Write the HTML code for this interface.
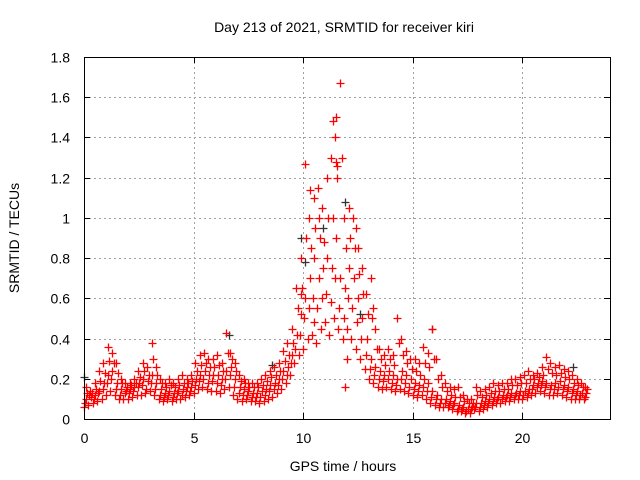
<!DOCTYPE html>
<html><head><meta charset="utf-8"><style>
body{margin:0;background:#fff}
svg{display:block;font-family:"Liberation Sans",sans-serif}
</style></head><body>
<svg id="chart" width="640" height="480">
<rect width="640" height="480" fill="#fff"/>
<text x="344" y="32" font-size="14" text-anchor="middle">Day 213 of 2021, SRMTID for receiver kiri</text>
<text x="343" y="471" font-size="14" text-anchor="middle">GPS time / hours</text>
<text transform="translate(19,238) rotate(-90)" font-size="14" text-anchor="middle">SRMTID / TECUs</text>
<g id="grid"></g><g id="ticks"></g><g id="marks"></g>
<rect x="84.5" y="57.5" width="526" height="362" fill="none" stroke="#000" stroke-width="1"/>
</svg>
<script>
const xTicks=[0,5,10,15,20];
const yTicks=[0,0.2,0.4,0.6,0.8,1,1.2,1.4,1.6,1.8];
const yTickLabels=["0","0.2","0.4","0.6","0.8","1","1.2","1.4","1.6","1.8"];
const times=[];for(let i=0;i<115;i++)times.push(i*0.2);
const lo=[.06,.07,.08,.09,.10,.12,.14,.12,.10,.10,.10,.11,.12,.12,.13,.14,.12,.10,.09,.10,.09,.10,.10,.11,.12,.13,.15,.16,.15,.14,.14,.13,.15,.16,.12,.10,.09,.10,.09,.09,.08,.09,.10,.11,.13,.15,.18,.22,.28,.32,.35,.40,.42,.38,.45,.48,.42,.50,.45,.40,.45,.40,.35,.30,.25,.20,.18,.16,.15,.16,.15,.14,.15,.14,.13,.12,.11,.12,.10,.08,.07,.06,.06,.06,.05,.04,.04,.03,.03,.05,.04,.05,.06,.07,.08,.08,.09,.09,.10,.10,.10,.11,.12,.13,.14,.13,.12,.12,.13,.12,.11,.10,.10,.10,.10];
const q1=[.08,.12,.10,.13,.15,.18,.20,.15,.12,.13,.13,.14,.16,.17,.15,.18,.15,.12,.11,.12,.11,.13,.12,.14,.14,.17,.19,.20,.18,.19,.18,.17,.20,.22,.16,.13,.12,.12,.11,.11,.11,.12,.14,.15,.17,.20,.22,.28,.35,.42,.50,.55,.60,.55,.60,.62,.58,.70,.55,.50,.60,.55,.48,.40,.32,.25,.22,.20,.19,.20,.18,.17,.20,.18,.16,.15,.14,.16,.14,.11,.10,.08,.08,.07,.07,.05,.05,.04,.05,.06,.06,.07,.08,.09,.10,.10,.11,.11,.12,.12,.12,.13,.15,.16,.17,.16,.15,.15,.16,.15,.14,.13,.12,.12,.11];
const mid=[.10,.11,.12,.14,.18,.22,.24,.18,.15,.14,.15,.16,.18,.20,.19,.22,.18,.15,.13,.14,.13,.14,.15,.16,.16,.20,.22,.24,.22,.22,.22,.20,.24,.26,.20,.16,.15,.14,.13,.13,.14,.15,.17,.18,.20,.24,.26,.32,.42,.52,.60,.70,.80,.70,.75,.80,.75,.90,.70,.65,.75,.70,.60,.50,.40,.30,.26,.24,.22,.24,.22,.20,.24,.22,.20,.18,.17,.20,.18,.14,.12,.10,.10,.09,.08,.07,.06,.05,.06,.08,.08,.09,.10,.11,.11,.12,.12,.13,.13,.14,.14,.15,.17,.18,.19,.18,.17,.18,.19,.17,.16,.15,.14,.13,.13];
const q3=[.13,.13,.15,.19,.23,.29,.28,.23,.18,.16,.17,.18,.21,.24,.22,.30,.22,.18,.16,.17,.16,.17,.18,.18,.19,.24,.27,.28,.26,.26,.27,.24,.33,.30,.24,.19,.18,.16,.16,.16,.17,.19,.21,.22,.24,.29,.32,.38,.55,.65,.90,.85,.95,.90,.88,1.0,1.0,1.2,1.3,.85,.90,.85,.72,.62,.52,.50,.35,.30,.27,.30,.27,.38,.32,.28,.25,.24,.22,.28,.26,.30,.20,.16,.14,.12,.11,.11,.09,.08,.08,.12,.11,.12,.13,.14,.14,.15,.15,.17,.17,.18,.18,.20,.20,.21,.22,.25,.23,.22,.23,.21,.20,.18,.17,.16,.15];
const hi=[.16,.14,.18,.24,.28,.36,.33,.28,.20,.18,.18,.20,.24,.28,.26,.38,.26,.20,.18,.20,.18,.20,.22,.20,.22,.28,.32,.33,.30,.30,.32,.28,.43,.33,.28,.22,.20,.18,.18,.18,.20,.22,.24,.26,.28,.34,.38,.45,.65,.80,1.27,1.0,1.1,1.15,1.05,1.2,1.3,1.5,1.67,1.0,1.05,1.0,.85,.75,.62,.70,.45,.35,.32,.35,.32,.50,.40,.34,.30,.30,.28,.36,.33,.45,.30,.22,.18,.16,.15,.16,.12,.10,.10,.16,.14,.15,.16,.18,.17,.18,.18,.20,.20,.21,.22,.24,.22,.23,.26,.31,.28,.26,.27,.25,.24,.22,.20,.18,.16];
const extraT=[11.45,11.5,11.35,11.55,11.9,10.7,10.3,12.4,13.2,9.9,10.5,12.0];
const extraV=[1.4,1.28,1.48,1.26,0.16,1.0,1.14,0.95,0.55,0.62,0.48,0.3];
const blackT=[0,6.6,8.6,9.9,10.1,10.9,11.9,12.6,15.9,22.3];
const blackV=[.21,.42,.27,.9,.78,.95,1.08,.52,.45,.26];
const X=v=>84+v*(526/24), Y=v=>419-v*(362/1.8);
const NS="http://www.w3.org/2000/svg";
const grid=document.getElementById('grid'),ticks=document.getElementById('ticks'),marks=document.getElementById('marks');
function mk(tag,at,parent){const e=document.createElementNS(NS,tag);for(const k in at)e.setAttribute(k,at[k]);parent.appendChild(e);return e;}
yTicks.forEach((v,i)=>{
 const y=Math.round(Y(v))+0.5;
 if(i>0&&i<yTicks.length-1){const g=mk('line',{x1:84,x2:610,y1:y,y2:y,stroke:'#a0a0a0','stroke-dasharray':'2,3'},grid);
 
 }
 mk('line',{x1:84,x2:90,y1:y,y2:y,stroke:'#000'},ticks);
 mk('line',{x1:604,x2:610,y1:y,y2:y,stroke:'#000'},ticks);
 const t=mk('text',{x:70,y:y+5,'font-size':14,'text-anchor':'end'},ticks);t.textContent=yTickLabels[i];
 
 
});
xTicks.forEach(v=>{
 const x=Math.round(X(v))+0.5;
 if(v>0){const g=mk('line',{x1:x,x2:x,y1:57,y2:419,stroke:'#a0a0a0','stroke-dasharray':'2,3'},grid);
 
 }
 mk('line',{x1:x,x2:x,y1:419,y2:413,stroke:'#000'},ticks);
 mk('line',{x1:x,x2:x,y1:57,y2:63,stroke:'#000'},ticks);
 const t=mk('text',{x:x,y:443,'font-size':14,'text-anchor':'middle'},ticks);t.textContent=String(v);
 
 
});
function cross(t,v,c){
 const x=Math.round(X(t))+0.5,y=Math.round(Y(v))+0.5;
 const p=mk('path',{d:`M${x-4},${y}h8M${x},${y-4}v8`,stroke:c,'stroke-width':1.3,fill:'none'},marks);
 
 
}
blackT.forEach((t,i)=>cross(t,blackV[i],'#333'));
times.forEach((t,i)=>{
 cross(t,lo[i],'#ff0000');
 cross(t+0.05,q1[i],'#ff0000');
 cross(t+0.1,mid[i],'#ff0000');
 cross(t+0.15,q3[i],'#ff0000');
 cross(t+0.08,hi[i],'#ff0000');
});
extraT.forEach((t,i)=>cross(t,extraV[i],'#ff0000'));
</script>
</body></html>
